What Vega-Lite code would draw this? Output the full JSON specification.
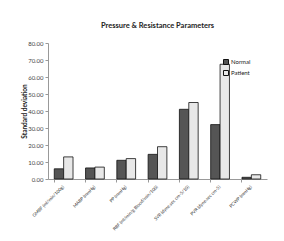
{
  "$schema": "https://vega.github.io/schema/vega-lite/v6.json",
  "width": 219,
  "height": 136,
  "autosize": {"type": "none"},
  "padding": {"left": 48, "top": 43, "right": 17, "bottom": 62},
  "background": "white",
  "config": {"view": {"stroke": null}, "font": "Lato"},
  "title": {"text": "Pressure & Resistance Parameters", "fontSize": 7.5, "fontWeight": "bold", "color": "#222", "offset": 11, "anchor": "middle"},
  "data": {"values": [
    {"param": "GMBF (ml/min/100g)", "group": "Normal", "sd": 6},
    {"param": "GMBF (ml/min/100g)", "group": "Patient", "sd": 13},
    {"param": "MABP (mmHg)", "group": "Normal", "sd": 6.5},
    {"param": "MABP (mmHg)", "group": "Patient", "sd": 7},
    {"param": "PP (mmHg)", "group": "Normal", "sd": 11},
    {"param": "PP (mmHg)", "group": "Patient", "sd": 12},
    {"param": "RBF (ml/min/g Blood/min/100)", "group": "Normal", "sd": 14.5},
    {"param": "RBF (ml/min/g Blood/min/100)", "group": "Patient", "sd": 19},
    {"param": "SVR (dyne.sec cm-5/10)", "group": "Normal", "sd": 41},
    {"param": "SVR (dyne.sec cm-5/10)", "group": "Patient", "sd": 45},
    {"param": "PVR (dyne.sec cm-5)", "group": "Normal", "sd": 32},
    {"param": "PVR (dyne.sec cm-5)", "group": "Patient", "sd": 67.5},
    {"param": "PCWP (mmHg)", "group": "Normal", "sd": 1},
    {"param": "PCWP (mmHg)", "group": "Patient", "sd": 2.5}
  ]},
  "mark": {"type": "bar", "stroke": "#111", "strokeWidth": 0.8},
  "encoding": {
    "x": {"field": "param", "type": "nominal", "sort": null,
      "scale": {"paddingInner": 0.4, "paddingOuter": 0.2},
      "axis": {"title": null, "labelAngle": -45, "labelFontSize": 4.5, "labelColor": "#333", "labelAlign": "right", "labelBaseline": "middle", "labelPadding": 4, "bandPosition": 0, "tickSize": 3, "tickColor": "#999", "domainColor": "#999", "labelLimit": 200}},
    "xOffset": {"field": "group", "type": "nominal"},
    "y": {"field": "sd", "type": "quantitative",
      "scale": {"domain": [0, 80]},
      "axis": {"title": "Standard deviation", "titleFontSize": 6.5, "titleFontWeight": "bold", "titleColor": "#222", "titlePadding": 0, "values": [0,10,20,30,40,50,60,70,80], "format": ".2f", "labelFontSize": 6, "labelColor": "#444", "grid": false, "tickSize": 3, "tickColor": "#999", "domainColor": "#999"}},
    "fill": {"field": "group", "type": "nominal",
      "scale": {"domain": ["Normal", "Patient"], "range": ["#555555", "#e8e8e8"]},
      "legend": {"title": null, "orient": "top-right", "offset": 16, "symbolType": "square", "symbolSize": 25, "symbolStrokeColor": "#111", "symbolStrokeWidth": 1, "labelFontSize": 6, "labelColor": "#222", "rowPadding": 1, "labelOffset": 2}}
  }
}
